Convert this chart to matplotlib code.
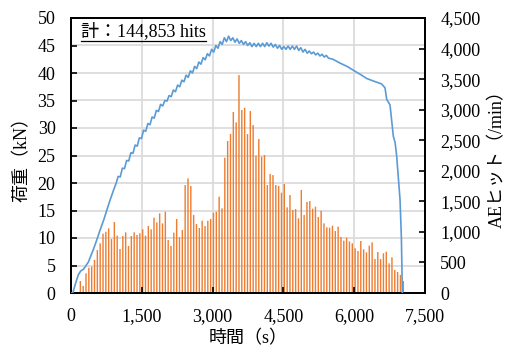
import matplotlib
matplotlib.use("Agg")
import matplotlib.pyplot as plt
from matplotlib.ticker import FuncFormatter, MultipleLocator
from matplotlib.lines import Line2D

# Load curve (time s, load kN), including the visible saw-tooth
load_t = [0, 40, 100, 157, 207, 263, 299, 335, 369, 475, 546, 616, 700, 758, 830, 899, 960,
          1000, 1045, 1090, 1135, 1180, 1225, 1270, 1315, 1360, 1405, 1450, 1495,
          1540, 1585, 1630, 1675, 1720, 1765, 1810, 1855, 1900, 1945, 1990, 2035,
          2080, 2125, 2170, 2215, 2260, 2305, 2350, 2395, 2440, 2485, 2530, 2575,
          2620, 2665, 2710, 2755, 2800, 2845, 2890, 2935, 2980, 3025, 3070, 3115,
          3160, 3205, 3250, 3295, 3340, 3385, 3430, 3475,
          3520, 3565, 3610, 3655, 3700, 3745, 3790, 3835, 3880, 3925, 3970, 4015,
          4060, 4105, 4150, 4195, 4240, 4285, 4330, 4375, 4420, 4465, 4510, 4555,
          4600, 4645, 4690, 4735, 4780, 4825, 4870, 4915, 4960, 5005, 5050, 5095,
          5140, 5185, 5230, 5275, 5320, 5365, 5410, 5455,
          5550, 5700, 5850, 5982, 6120, 6266, 6420, 6583, 6653, 6689, 6759, 6829,
          6866, 6900, 6971, 7000, 7020]
load_kn = [0, 0, 1.8, 3.3, 4.0, 4.3, 4.7, 5.2, 5.6, 7.9, 9.6, 11.4, 13.4, 15.0, 16.9, 18.6, 20.0,
           21.2, 21.1, 22.7, 22.6, 24.1, 24.0, 25.5, 25.4, 26.9, 26.7, 28.2, 28.1,
           29.6, 29.4, 30.8, 30.6, 32.0, 31.8, 33.2, 33.0, 34.3, 34.0, 35.0, 34.9,
           35.9, 35.7, 36.9, 36.6, 37.8, 37.5, 38.7, 38.4, 39.6, 39.2, 40.4, 40.0,
           41.2, 40.8, 42.0, 41.6, 42.8, 42.4, 43.5, 43.1, 44.3, 43.8, 45.0, 44.5,
           45.7, 45.2, 46.4, 45.7, 46.7, 45.9, 46.4, 45.6,
           46.2, 45.4, 45.9, 45.2, 45.7, 45.0, 45.5, 44.8, 45.4, 44.8, 45.4, 44.8,
           45.4, 44.8, 45.5, 44.9, 45.4, 44.7, 45.2, 44.5, 45.0, 44.3, 44.8, 44.3,
           44.9, 44.3, 44.9, 44.3, 44.9, 44.1, 44.6, 43.8, 44.3, 43.6, 44.0, 43.5,
           43.8, 43.3, 43.6, 43.1, 43.4, 42.9, 43.2, 42.7,
           42.5, 41.8, 41.2, 40.5, 39.8, 39.0, 38.5, 38.0, 37.3, 35.2, 34.2, 28.5,
           27.4, 24.9, 17.0, 10.0, 0]

# AE hits per minute
ae_hits = [196, 115, 322, 414, 431, 540, 703, 813, 971, 1003,
           1058, 883, 1162, 938, 720, 933, 993, 769, 933, 993,
           949, 976, 1042, 938, 1096, 1042, 1232, 1156, 1303, 1140,
           1330, 867, 769, 987, 1211, 911, 1031, 1767, 1876, 1750,
           1276, 1129, 1063, 1183, 1096, 1183, 1211, 1314, 1330, 1576,
           1385,
           2214, 2487, 2601, 2961, 2792, 3566, 2994, 3032, 2601, 2977,
           2748, 2247, 2519, 2230, 2258, 1767, 1947, 1930, 1767, 1750, 1641,
           1783, 1402, 1603, 1358, 1374, 1222, 1685, 1276, 1489, 1505,
           1380, 1412, 1243, 1347, 1140, 1075, 1069, 1101, 1014, 1085,
           916, 856, 905,
           845, 813, 731, 687, 851, 715, 665, 774, 829, 556,
           671, 556, 649, 676, 485, 584, 376, 344, 295, 196]
ae_start = 200
ae_step = 60
ae_t = [ae_start + ae_step * i for i in range(len(ae_hits))]

total_label = "計：144,853 hits"
xlabel = "時間（s）"
ylabel_left = "荷重（kN）"
ylabel_right = "AEヒット（/min）"

fam = ["Liberation Serif", "Noto Sans CJK JP"]
plt.rcParams["font.family"] = fam
plt.rcParams["font.size"] = 13

W, H = 509, 352
L, R, T, B = 70.9, 425.0, 18.0, 293.0
fig = plt.figure(figsize=(W / 100, H / 100), dpi=100)
ax = fig.add_axes([L / W, 1 - B / H, (R - L) / W, (B - T) / H])
ax2 = ax.twinx()

ax2.bar(ae_t, ae_hits, width=30, color="#ED7D31", linewidth=0, zorder=2, snap=False)
ax2.set_ylim(0, 4500)
ax2.yaxis.set_major_locator(MultipleLocator(500))
ax2.yaxis.set_major_formatter(FuncFormatter(lambda v, p: f"{int(v):,}"))

ax.set_zorder(ax2.get_zorder() + 1)
ax.patch.set_visible(False)
ax.plot(load_t, load_kn, color="#5B9BD5", lw=1.2, zorder=3)
ax.set_xlim(0, 7500)
ax.set_ylim(0, 50)
ax.xaxis.set_major_locator(MultipleLocator(1500))
ax.yaxis.set_major_locator(MultipleLocator(5))
ax.xaxis.set_major_formatter(FuncFormatter(lambda v, p: f"{int(v):,}"))

for v in range(1500, 7500, 1500):
    ax2.axvline(v, color="#D9D9D9", lw=1.2, zorder=0)
for v in range(5, 50, 5):
    ax2.axhline(v * 90, color="#D9D9D9", lw=1.2, zorder=0)

for a in (ax, ax2):
    a.tick_params(direction="in", length=4, width=1.2, labelsize=13, colors="black")
    for s in a.spines.values():
        s.set_linewidth(1.3)
        s.set_color("black")
ax.tick_params(axis="y", pad=11)
ax.tick_params(axis="x", pad=11)
ax2.tick_params(axis="y", pad=11)

fig.text(248 / W, 1 - 339 / H, xlabel, ha="center", va="center", fontsize=13)
fig.text(22 / W, 1 - 155 / H, ylabel_left, ha="center", va="center",
         rotation=90, fontsize=13)
fig.text(497 / W, 1 - 155 / H, ylabel_right, ha="center", va="center",
         rotation=90, fontsize=13)

t = ax.text(0.028, 0.985, total_label, transform=ax.transAxes, fontsize=13,
            va="top", ha="left", zorder=5)
fig.canvas.draw()
bb = t.get_window_extent().transformed(ax.transAxes.inverted())
ax.add_line(Line2D([bb.x0, bb.x1], [bb.y0 - 0.004, bb.y0 - 0.004],
                   transform=ax.transAxes, color="black", lw=0.9, zorder=5))

fig.savefig("out.png", dpi=100)
